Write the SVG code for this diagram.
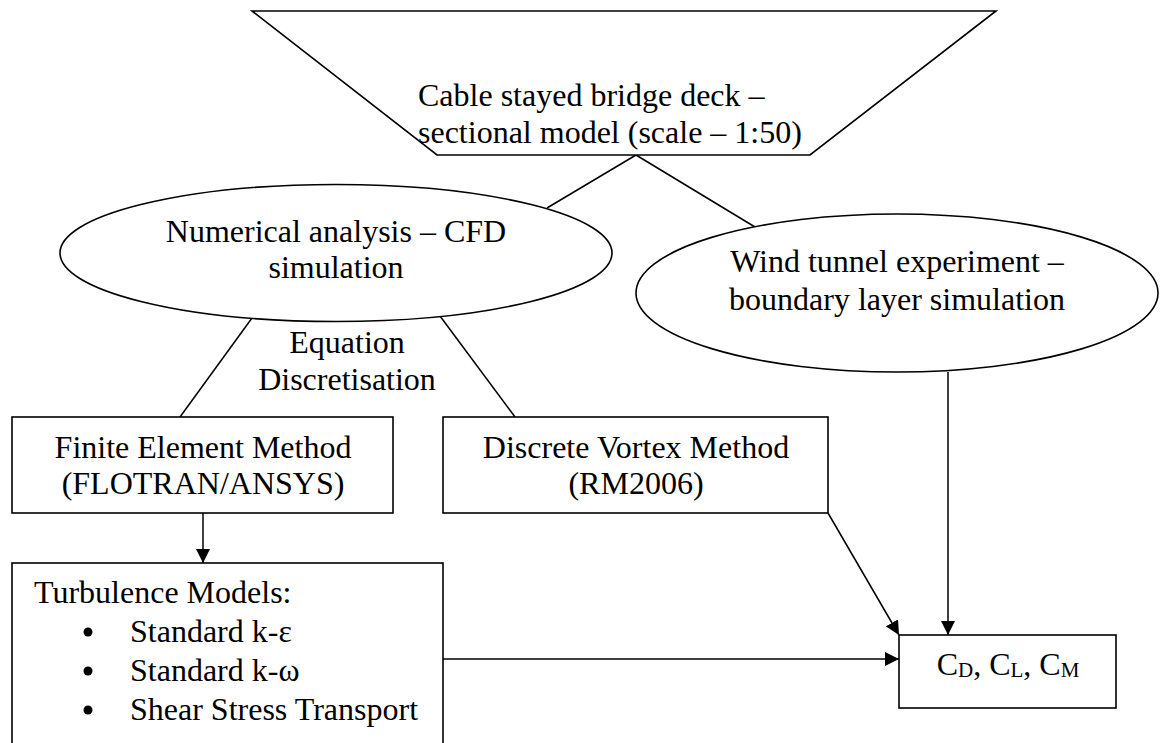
<svg xmlns="http://www.w3.org/2000/svg" width="1160" height="743" viewBox="0 0 1160 743">
<defs>
<style>
.s{fill:#fff;stroke:#000;stroke-width:1.6}
.c{fill:none;stroke:#000;stroke-width:1.5}
text{font-family:"Liberation Serif","Times New Roman",serif;font-size:32px;fill:#000}
.m{text-anchor:middle}
.sub{font-size:21px}
</style>
<marker id="ah" viewBox="0 0 10 10" refX="10" refY="5" markerWidth="14" markerHeight="14" markerUnits="userSpaceOnUse" orient="auto">
<path d="M0,0 L10,5 L0,10 z" fill="#000"/>
</marker>
</defs>
<rect width="1160" height="743" fill="#fff"/>
<g id="connectors">
<line class="c" x1="636" y1="155" x2="547" y2="208"/>
<line class="c" x1="636" y1="155" x2="755" y2="227"/>
<line class="c" x1="252" y1="318" x2="180" y2="417"/>
<line class="c" x1="440" y1="316" x2="515" y2="417"/>
<line class="c" x1="203" y1="513" x2="203" y2="563" marker-end="url(#ah)"/>
<line class="c" x1="948" y1="372" x2="948" y2="635" marker-end="url(#ah)"/>
<line class="c" x1="828" y1="513" x2="899" y2="635" marker-end="url(#ah)"/>
<line class="c" x1="443" y1="659" x2="899" y2="659" marker-end="url(#ah)"/>
</g>
<g id="deck">
<polygon class="s" points="252,11 996,11 810,155 437,155"/>
<text x="418" y="106">Cable stayed bridge deck –</text>
<text x="418" y="143">sectional model (scale – 1:50)</text>
</g>
<g id="numerical">
<ellipse class="s" cx="336" cy="253" rx="276" ry="68.5"/>
<text class="m" x="336" y="242">Numerical analysis – CFD</text>
<text class="m" x="336" y="278">simulation</text>
</g>
<g id="windtunnel">
<ellipse class="s" cx="897" cy="293" rx="261" ry="79"/>
<text class="m" x="897" y="272">Wind tunnel experiment –</text>
<text class="m" x="897" y="310">boundary layer simulation</text>
</g>
<g id="discretisation-label">
<text class="m" x="347" y="353">Equation</text>
<text class="m" x="347" y="390">Discretisation</text>
</g>
<g id="fem">
<rect class="s" x="12" y="417" width="381" height="96"/>
<text class="m" x="203" y="458">Finite Element Method</text>
<text class="m" x="203" y="494">(FLOTRAN/ANSYS)</text>
</g>
<g id="dvm">
<rect class="s" x="443" y="417" width="385" height="96"/>
<text class="m" x="636" y="458">Discrete Vortex Method</text>
<text class="m" x="636" y="494">(RM2006)</text>
</g>
<g id="turbulence">
<rect class="s" x="12" y="563" width="431" height="190"/>
<text x="34" y="603">Turbulence Models:</text>
<circle cx="88" cy="632" r="4.5"/>
<circle cx="88" cy="671" r="4.5"/>
<circle cx="88" cy="710" r="4.5"/>
<text x="130" y="642">Standard k-ε</text>
<text x="130" y="681">Standard k-ω</text>
<text x="130" y="720">Shear Stress Transport</text>
</g>
<g id="coefficients">
<rect class="s" x="899" y="635" width="217" height="73"/>
<text class="m" x="1008" y="675">C<tspan class="sub" dy="2">D</tspan><tspan dy="-2">, C</tspan><tspan class="sub" dy="2">L</tspan><tspan dy="-2">, C</tspan><tspan class="sub" dy="2">M</tspan></text>
</g>
</svg>
